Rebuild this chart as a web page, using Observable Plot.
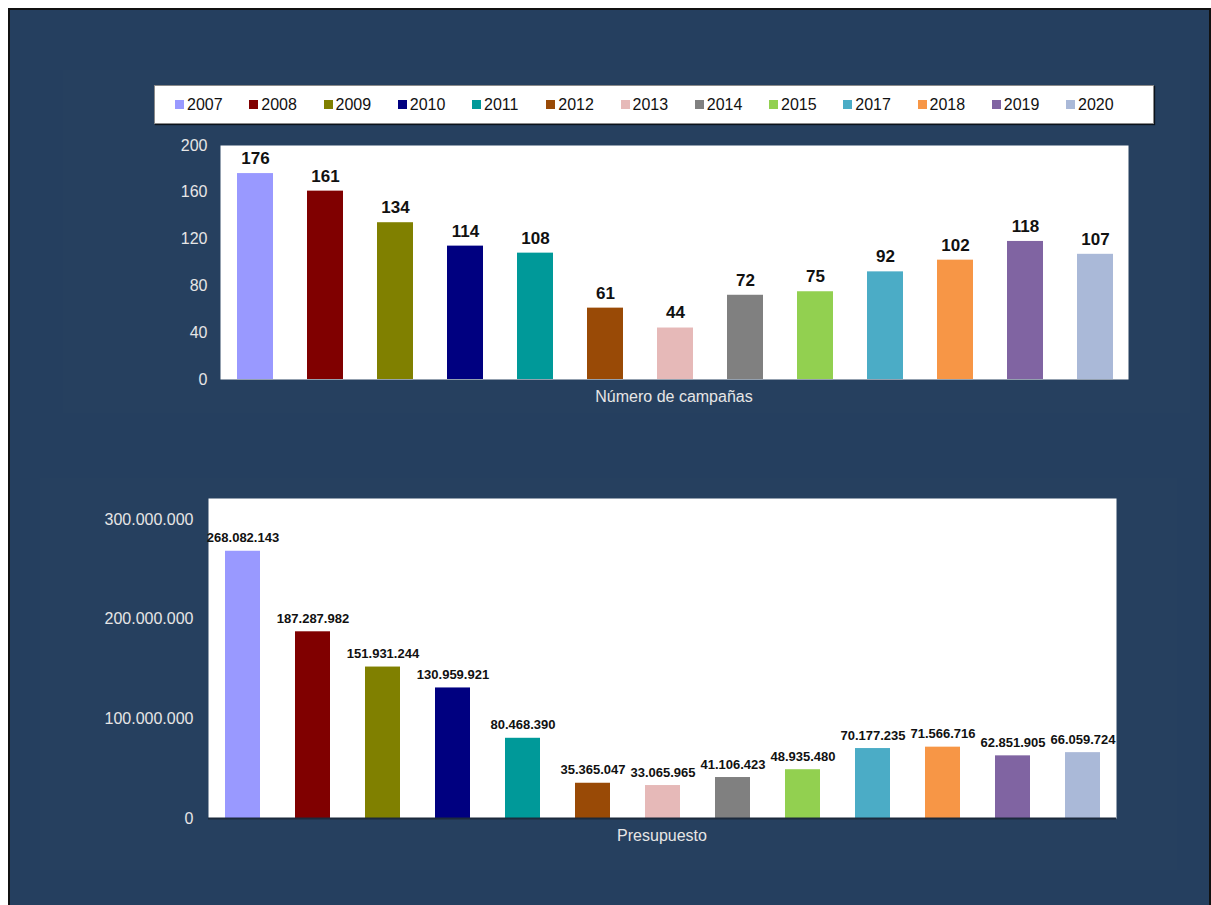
<!DOCTYPE html>
<html>
<head>
<meta charset="utf-8">
<script src="https://cdn.jsdelivr.net/npm/d3@7"></script>
<script src="https://cdn.jsdelivr.net/npm/@observablehq/plot@0.6"></script>
<style>
  html, body { margin: 0; padding: 0; background: #ffffff; }
  body { width: 1211px; height: 905px; overflow: hidden; position: relative; font-family: "Liberation Sans", Arial, sans-serif; }
  #page { position: absolute; left: 8px; top: 8px; width: 1199px; height: 920px; background: #253f5f; border: 2px solid #111; }
  .panel { position: absolute; background: #26405f; }
  .abs { position: absolute; }
  #legend { position: absolute; left: 154px; top: 85px; width: 978px; height: 37px; background: #fff; border: 1px solid #8a8a8a; box-shadow: 1px 1px 1px rgba(0,0,0,0.7); display: flex; align-items: center; padding-left: 20px; box-sizing: content-box; }
  #legend .item { display: flex; align-items: center; width: 74.25px; flex: none; font-size: 16px; color: #111; }
  #legend .sw { width: 9px; height: 9px; margin-right: 3px; flex: none; }
  .title { position: absolute; color: #e6e6e6; font-size: 16px; text-align: center; }
</style>
</head>
<body>
<div id="page"></div>
<div class="panel" style="left:63px; top:70px; width:1127px; height:343px;"></div>
<div class="panel" style="left:40px; top:478px; width:1137px; height:392px;"></div>
<div id="legend"></div>
<div id="top" class="abs" style="left:150px; top:130px;"></div>
<div class="title" style="left:220px; top:388px; width:908px;">Número de campañas</div>
<div id="bottom" class="abs" style="left:90px; top:480px;"></div>
<div class="title" style="left:208px; top:827px; width:908px;">Presupuesto</div>
<script>
const years = ["2007","2008","2009","2010","2011","2012","2013","2014","2015","2017","2018","2019","2020"];
const colors = ["#9999ff","#800000","#808000","#000080","#009999","#994a06","#e6b9b8","#808080","#92d050","#4bacc6","#f79646","#8064a2","#aab9d8"];
const campaigns = [176,161,134,114,108,61,44,72,75,92,102,118,107];
const budget = [268082143,187287982,151931244,130959921,80468390,35365047,33065965,41106423,48935480,70177235,71566716,62851905,66059724];
const campaignTicks = [0,40,80,120,160,200];
const budgetTicks = [0,100000000,200000000,300000000];
const topTitle = "Número de campañas";
const bottomTitle = "Presupuesto";

const es = d3.formatLocale({decimal: ",", thousands: ".", grouping: [3], currency: ["", " €"]});
const fmt = es.format(",d");

// legend
const legend = document.getElementById("legend");
years.forEach((y, i) => {
  const it = document.createElement("div");
  it.className = "item";
  const sw = document.createElement("span");
  sw.className = "sw";
  sw.style.background = colors[i];
  const t = document.createElement("span");
  t.textContent = y;
  it.appendChild(sw); it.appendChild(t);
  legend.appendChild(it);
});

const topData = years.map((y, i) => ({year: y, value: campaigns[i]}));
const botData = years.map((y, i) => ({year: y, value: budget[i]}));

const topChart = Plot.plot({
  width: 1000, height: 270,
  marginLeft: 70, marginRight: 22, marginTop: 15, marginBottom: 21,
  style: {background: "transparent", color: "#e6e6e6", fontFamily: "Liberation Sans, Arial, sans-serif", fontSize: "16px"},
  x: {type: "band", domain: years, paddingInner: 0.49, paddingOuter: 0, insetLeft: 14, insetRight: 13, axis: null},
  y: {domain: [0, 200]},
  color: {domain: years, range: colors},
  marks: [
    Plot.frame({fill: "white", stroke: null}),
    Plot.axisY({ticks: campaignTicks, tickSize: 0, tickPadding: 13, fontSize: 16, label: null}),
    Plot.barY(topData, {x: "year", y: "value", fill: "year"}),
    Plot.text(topData, {x: "year", y: "value", text: d => String(d.value), dy: -15, fill: "#111", fontWeight: "bold", fontSize: 17})
  ]
});
document.getElementById("top").appendChild(topChart);

const botChart = Plot.plot({
  width: 1050, height: 370,
  marginLeft: 118, marginRight: 24, marginTop: 18, marginBottom: 32,
  style: {background: "transparent", color: "#e6e6e6", fontFamily: "Liberation Sans, Arial, sans-serif", fontSize: "16px"},
  x: {type: "band", domain: years, paddingInner: 0.5, paddingOuter: 0, insetLeft: 15, insetRight: 15, axis: null},
  y: {domain: [0, 321000000]},
  color: {domain: years, range: colors},
  marks: [
    Plot.frame({fill: "white", stroke: null}),
    Plot.axisY({ticks: budgetTicks, tickFormat: fmt, tickSize: 0, tickPadding: 15, fontSize: 16, label: null}),
    Plot.barY(botData, {x: "year", y: "value", fill: "year"}),
    Plot.ruleY([0], {stroke: "#1c2a3d", strokeWidth: 2}),
    Plot.text(botData, {x: "year", y: "value", text: d => fmt(d.value), dy: -13, fill: "#111", fontWeight: "bold", fontSize: 13})
  ]
});
document.getElementById("bottom").appendChild(botChart);
</script>
</body>
</html>
